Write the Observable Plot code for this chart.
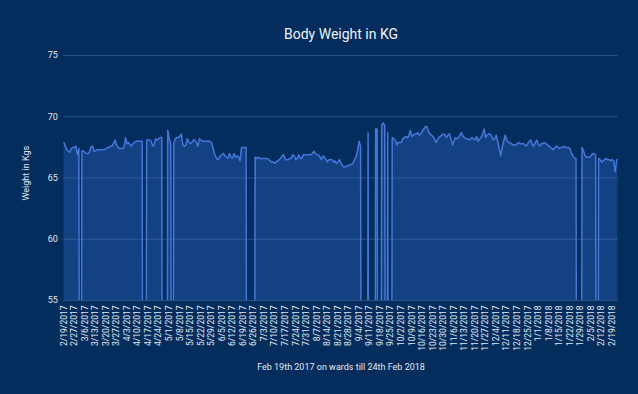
<!DOCTYPE html>
<html><head><meta charset="utf-8">
<script src="https://cdn.jsdelivr.net/npm/d3@7"></script>
<script src="https://cdn.jsdelivr.net/npm/@observablehq/plot@0.6"></script>
<style>html,body{margin:0;padding:0;background:#022d5d;overflow:hidden}</style>
</head><body><div id="chart"></div>
<script>
const title = "Body Weight in KG";
const yTitle = "Weight in Kgs";
const xTitle = "Feb 19th 2017 on wards till 24th Feb 2018";
const firstDay = "2017-02-19";
const dayAfterLast = "2018-02-24";
const skippedDays = ["2/20/2017"];
// daily weights (0 = no reading)
const weights = [
67.9,67.6,67.3,67.2,67.1,67.4,67.5,67.5,67.6,66.9,
67.4,0,67.2,67.2,67.1,67.0,67.0,67.1,67.5,67.6,
67.2,67.2,67.3,67.3,67.3,67.3,67.3,67.3,67.4,67.5,
67.5,67.6,67.6,67.8,68.1,67.7,67.5,67.4,67.4,67.4,
67.5,68.3,67.8,67.9,67.7,67.6,67.8,67.9,68.0,68.0,
68.0,68.0,68.0,0,0,68.1,68.1,68.1,68.0,67.6,
67.7,68.2,68.1,68.2,68.3,68.3,0,0,0,68.9,
68.2,67.8,0,67.8,68.2,68.3,68.3,68.4,68.6,67.7,
67.6,67.7,68.2,67.9,67.8,67.9,68.1,68.1,67.9,67.6,
68.2,68.1,68.0,68.0,68.0,68.0,68.0,68.0,67.9,67.5,
67.0,66.7,66.5,66.6,66.8,66.9,67.0,66.8,66.7,66.6,
67.0,66.7,66.6,67.0,66.7,66.8,66.7,66.4,67.5,67.5,
67.5,67.5,0,0,0,0,0,66.7,66.6,66.7,
66.6,66.6,66.6,66.6,66.6,66.6,66.5,66.4,66.3,66.3,
66.2,66.3,66.4,66.5,66.6,66.8,66.9,66.5,66.5,66.5,
66.6,66.6,66.9,66.8,66.5,66.6,66.9,66.6,66.6,66.9,
66.9,66.9,66.9,66.9,66.9,67.0,67.2,67.0,66.9,66.9,
66.7,66.5,66.8,66.7,66.5,66.3,66.5,66.5,66.5,66.3,
66.4,66.2,66.3,66.5,66.2,66.0,65.9,65.9,66.0,66.0,
66.1,66.1,66.2,66.5,66.7,67.2,68.0,67.6,0,0,
0,0,68.7,0,0,0,0,69.0,69.0,0,
0,69.3,69.5,69.3,0,68.7,0,0,68.3,68.2,
68.1,67.7,67.9,67.9,67.9,68.2,68.3,68.4,68.3,68.4,
68.9,68.4,68.5,68.6,68.6,68.7,68.5,68.6,68.8,69.0,
69.2,69.2,68.8,68.6,68.5,68.4,68.2,67.9,68.1,68.3,
68.4,68.5,68.6,68.5,68.3,68.5,68.6,68.2,67.7,68.0,
68.3,68.2,68.3,68.5,68.7,68.4,68.3,68.2,68.2,68.1,
68.2,68.3,68.2,68.1,68.4,68.0,68.2,68.3,68.6,69.0,
68.3,68.5,68.6,68.6,68.4,68.1,68.2,68.5,68.0,67.4,
66.8,67.5,68.0,68.5,68.1,67.9,67.9,67.8,67.7,67.7,
67.7,67.8,67.9,67.8,67.8,67.8,67.7,67.6,67.8,68.0,
68.1,67.7,67.6,67.9,68.1,67.7,67.6,67.8,67.8,67.9,
67.8,67.7,67.6,67.5,67.4,67.3,67.5,67.6,67.5,67.4,
67.5,67.5,67.6,67.5,67.5,67.5,67.4,67.0,66.8,66.6,
66.6,0,0,0,67.5,67.2,66.8,66.7,66.7,66.7,
66.8,67.0,67.0,66.9,0,66.6,66.5,66.3,66.4,66.5,
66.6,66.5,66.5,66.4,66.5,66.4,65.5,66.5,66.5
];
const yTicks = [55, 60, 65, 70, 75];
const tickLabels = [
"2/19/2017","2/27/2017","3/6/2017","3/13/2017","3/20/2017","3/27/2017",
"4/3/2017","4/10/2017","4/17/2017","4/24/2017","5/1/2017","5/8/2017",
"5/15/2017","5/22/2017","5/29/2017","6/5/2017","6/12/2017","6/19/2017",
"6/26/2017","7/3/2017","7/10/2017","7/17/2017","7/24/2017","7/31/2017",
"8/7/2017","8/14/2017","8/21/2017","8/28/2017","9/4/2017","9/11/2017",
"9/18/2017","9/25/2017","10/2/2017","10/9/2017","10/16/2017","10/23/2017",
"10/30/2017","11/6/2017","11/13/2017","11/20/2017","11/27/2017","12/4/2017",
"12/11/2017","12/18/2017","12/25/2017","1/1/2018","1/8/2018","1/15/2018",
"1/22/2018","1/29/2018","2/5/2018","2/12/2018","2/19/2018"
];

const fmt = d => `${d.getUTCMonth() + 1}/${d.getUTCDate()}/${d.getUTCFullYear()}`;
const dates = d3.utcDay.range(new Date(firstDay), new Date(dayAfterLast))
  .map(fmt).filter(s => !skippedDays.includes(s));
const data = dates.map((d, i) => ({date: d, w: weights[i]}));

const txt = "#e4e9f1";
const chart = Plot.plot({
  width: 638, height: 394,
  marginLeft: 63.3, marginRight: 20.3, marginTop: 55, marginBottom: 94,
  style: {background: "#022d5d", color: txt, fontFamily: "Roboto, sans-serif", overflow: "visible"},
  x: {type: "point", domain: dates, padding: 0},
  y: {domain: [55, 75]},
  marks: [
    Plot.ruleY(yTicks, {stroke: "#2f5180", strokeWidth: 1}),
    Plot.areaY(data, {x: "date", y: "w", fill: "#3d6fd6", fillOpacity: 0.3, clip: true}),
    Plot.lineY(data, {x: "date", y: "w", stroke: "#4577db", strokeWidth: 1.5, clip: true}),
    Plot.axisY({ticks: yTicks, tickSize: 0, tickPadding: 6, fontSize: 9, fill: txt, label: null}),
    Plot.axisX({ticks: tickLabels, tickSize: 0, tickPadding: 5, tickRotate: -90, fontSize: 8.5, fill: txt, label: null}),
    Plot.text([title], {text: d => d, frameAnchor: "top", dy: -26, fontSize: 14, fill: "#eef2f8"}),
    Plot.text([yTitle], {text: d => d, frameAnchor: "left", dx: -38, dy: 22.5, rotate: -90, fontSize: 9, fill: txt}),
    Plot.text([xTitle], {text: d => d, frameAnchor: "bottom", dy: 69, fontSize: 9, fill: txt})
  ]
});
document.getElementById("chart").appendChild(chart);
</script>
</body></html>
